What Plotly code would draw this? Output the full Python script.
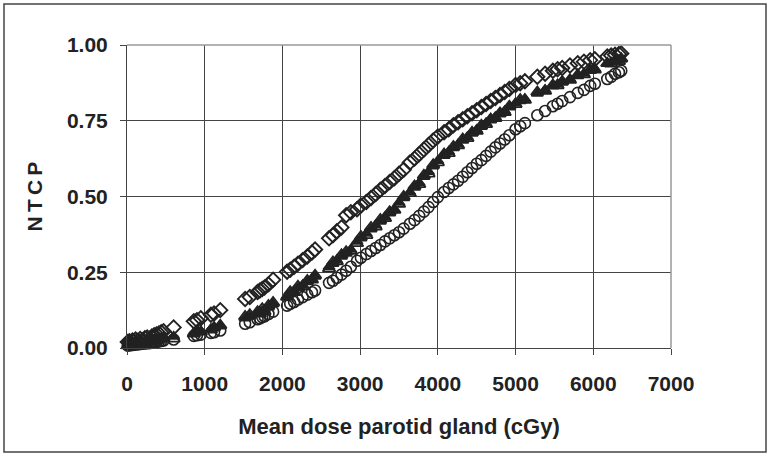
import plotly.graph_objects as go

dose = [10, 30, 50, 70, 90, 110, 140, 170, 200, 230, 260, 290, 320, 350, 380, 410, 440, 470,
        600,
        860, 900, 950, 1080, 1120, 1200,
        1520, 1580, 1680, 1710, 1740, 1770, 1820, 1880,
        2060, 2100, 2150, 2200, 2260, 2320, 2380, 2420,
        2600, 2650, 2700, 2760, 2820, 2880,
        2960, 3010, 3080, 3140, 3200, 3260, 3320, 3380, 3440, 3500, 3560,
        3640, 3700, 3760, 3820, 3880, 3940, 4000,
        4080, 4140, 4200, 4260, 4320, 4380, 4440, 4500, 4560, 4620, 4680, 4740, 4800, 4860, 4920, 5000, 5060, 5120,
        5280, 5380, 5480, 5540, 5600, 5700, 5800, 5880, 5960, 6020, 6180, 6230, 6280, 6330, 6360]

ntcp_diamond = [0.020, 0.022, 0.018, 0.025, 0.022, 0.028, 0.024, 0.030, 0.026, 0.032, 0.035, 0.030, 0.038, 0.042, 0.045, 0.048, 0.052, 0.055,
                0.068,
                0.088, 0.092, 0.098, 0.110, 0.114, 0.125,
                0.162, 0.168, 0.185, 0.190, 0.195, 0.200, 0.210, 0.225,
                0.252, 0.258, 0.268, 0.278, 0.290, 0.302, 0.315, 0.325,
                0.362, 0.372, 0.385, 0.398, 0.438, 0.448,
                0.458, 0.470, 0.482, 0.495, 0.508, 0.522, 0.535, 0.548, 0.560, 0.575, 0.588,
                0.612, 0.625, 0.640, 0.655, 0.670, 0.685, 0.698,
                0.712, 0.722, 0.735, 0.745, 0.755, 0.765, 0.775, 0.785, 0.795, 0.805, 0.815, 0.825, 0.835, 0.845, 0.855, 0.868, 0.874, 0.880,
                0.895, 0.905, 0.915, 0.920, 0.924, 0.932, 0.940, 0.945, 0.950, 0.953, 0.962, 0.965, 0.968, 0.970, 0.972]

ntcp_tri_filled = [0.010, 0.012, 0.011, 0.014, 0.013, 0.016, 0.015, 0.018, 0.016, 0.020, 0.021, 0.019, 0.023, 0.025, 0.027, 0.029, 0.031, 0.033,
                   0.038,
                   0.050, 0.052, 0.056, 0.062, 0.065, 0.072,
                   0.098, 0.104, 0.115, 0.118, 0.122, 0.126, 0.134, 0.145,
                   0.172, 0.180, 0.188, 0.198, 0.208, 0.218, 0.228, 0.236,
                   0.268, 0.278, 0.290, 0.302, 0.312, 0.325,
                   0.352, 0.362, 0.378, 0.392, 0.405, 0.418, 0.432, 0.445, 0.458, 0.480, 0.495,
                   0.515, 0.530, 0.545, 0.565, 0.582, 0.600, 0.618,
                   0.635, 0.648, 0.660, 0.672, 0.685, 0.696, 0.708, 0.720, 0.730, 0.742, 0.752, 0.762, 0.772, 0.782, 0.795, 0.808, 0.815, 0.822,
                   0.840, 0.852, 0.864, 0.870, 0.876, 0.888, 0.898, 0.906, 0.915, 0.922, 0.938, 0.942, 0.946, 0.950, 0.953]

ntcp_tri_open = [0.008, 0.010, 0.013, 0.011, 0.015, 0.013, 0.017, 0.016, 0.019, 0.018, 0.022, 0.022, 0.021, 0.026, 0.025, 0.030, 0.029, 0.034,
                 0.030,
                 0.047, 0.055, 0.053, 0.060, 0.068, 0.075,
                 0.104, 0.110, 0.120, 0.113, 0.130, 0.120, 0.140, 0.150,
                 0.168, 0.186, 0.184, 0.204, 0.203, 0.223, 0.225, 0.240,
                 0.262, 0.284, 0.285, 0.308, 0.318, 0.320,
                 0.345, 0.368, 0.372, 0.398, 0.400, 0.424, 0.428, 0.450, 0.455, 0.475, 0.500,
                 0.510, 0.535, 0.540, 0.570, 0.575, 0.605, 0.612,
                 0.640, 0.642, 0.665, 0.668, 0.690, 0.692, 0.712, 0.716, 0.735, 0.738, 0.756, 0.758, 0.776, 0.778, 0.798, 0.804, 0.820, 0.818,
                 0.845, 0.848, 0.868, 0.866, 0.880, 0.884, 0.902, 0.902, 0.918, 0.918, 0.940, 0.938, 0.948, 0.946, 0.955]

ntcp_circle = [0.008, 0.009, 0.010, 0.010, 0.011, 0.012, 0.012, 0.013, 0.014, 0.015, 0.016, 0.016, 0.018, 0.019, 0.020, 0.022, 0.023, 0.025,
               0.028,
               0.040, 0.042, 0.044, 0.050, 0.052, 0.058,
               0.080, 0.085, 0.095, 0.098, 0.102, 0.105, 0.112, 0.120,
               0.140, 0.146, 0.152, 0.160, 0.168, 0.176, 0.184, 0.190,
               0.215, 0.222, 0.232, 0.242, 0.255, 0.268,
               0.288, 0.298, 0.310, 0.320, 0.330, 0.340, 0.352, 0.362, 0.372, 0.382, 0.394,
               0.410, 0.422, 0.436, 0.450, 0.465, 0.482, 0.498,
               0.515, 0.528, 0.540, 0.552, 0.565, 0.580, 0.594, 0.608, 0.620, 0.634, 0.648, 0.662, 0.675, 0.688, 0.702, 0.722, 0.732, 0.742,
               0.768, 0.782, 0.798, 0.806, 0.815, 0.828, 0.842, 0.852, 0.865, 0.872, 0.888, 0.895, 0.905, 0.910, 0.915]

x_ticks = [0, 1000, 2000, 3000, 4000, 5000, 6000, 7000]
y_ticks = [0.00, 0.25, 0.50, 0.75, 1.00]
y_tick_labels = ["0.00", "0.25", "0.50", "0.75", "1.00"]

INK = "#222222"
FONT = "Liberation Sans, Arial, sans-serif"

fig = go.Figure()

def add(y, symbol, size, width, fill=None):
    fig.add_trace(go.Scatter(
        x=dose, y=y, mode="markers", cliponaxis=False, showlegend=False,
        marker=dict(symbol=symbol, size=size, color=fill if fill else INK,
                    line=dict(color=INK, width=width)),
    ))

add(ntcp_circle, "circle-open", 11, 1.6)
add(ntcp_tri_open, "triangle-up-open", 11, 1.8)
add(ntcp_tri_filled, "triangle-up", 10, 1.6)
add(ntcp_diamond, "diamond-open", 11, 1.9)

fig.update_layout(
    width=770, height=456,
    margin=dict(l=127, r=99, t=45, b=108),
    paper_bgcolor="white", plot_bgcolor="white",
    font=dict(family=FONT, color=INK),
    xaxis=dict(
        range=[0, 7000], tickvals=x_ticks, ticktext=[str(v) for v in x_ticks],
        showgrid=True, gridcolor="#444444", gridwidth=1,
        showline=True, linecolor="#444444", linewidth=1, zeroline=False,
        ticks="outside", ticklen=6, tickcolor="#444444",
        tickfont=dict(size=21, family=FONT, weight="bold"),
        ticklabelstandoff=11,
        title=dict(text="Mean dose parotid gland (cGy)",
                   font=dict(size=22, family=FONT, weight="bold"), standoff=24),
    ),
    yaxis=dict(
        range=[0, 1], tickvals=y_ticks, ticktext=y_tick_labels,
        showgrid=True, gridcolor="#444444", gridwidth=1,
        showline=True, linecolor="#444444", linewidth=1, zeroline=False,
        ticks="outside", ticklen=6, tickcolor="#444444",
        tickfont=dict(size=21, family=FONT, weight="bold"),
        ticklabelstandoff=8,
        title=dict(text="N\u2009T\u2009C\u2009P", font=dict(size=21, family=FONT, weight="bold"), standoff=18),
    ),
    shapes=[
        dict(type="line", xref="paper", yref="paper", x0=0, x1=1, y0=1, y1=1,
             line=dict(color="#999999", width=1.5), layer="above"),
        dict(type="line", xref="paper", yref="paper", x0=1, x1=1, y0=0, y1=1,
             line=dict(color="#999999", width=1.5), layer="above"),
        dict(type="rect", xref="paper", yref="paper",
             x0=(4 - 127) / 544, x1=(766 - 127) / 544,
             y0=(348 - 452) / 303, y1=1 + (45 - 4) / 303,
             line=dict(color="#444444", width=1.5)),
    ],
)

fig.write_html("out.html")
